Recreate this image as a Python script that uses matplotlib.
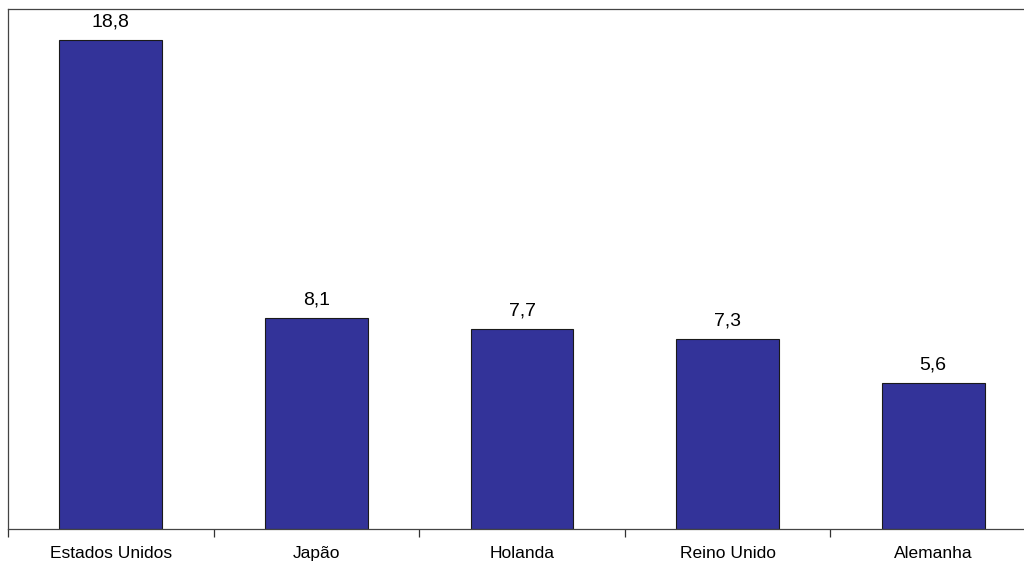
import numpy as np
import matplotlib.pyplot as plt

plt.rcParams['font.family'] = ['Liberation Sans', 'DejaVu Sans']

paises = ['Estados Unidos', 'Japão', 'Holanda', 'Reino Unido', 'Alemanha']
valores = [18.8, 8.1, 7.7, 7.3, 5.6]
rotulos = ['18,8', '8,1', '7,7', '7,3', '5,6']

fig = plt.figure(figsize=(10.24, 5.67), dpi=100)
ax = fig.add_axes([8 / 1024, 38 / 567, 1028 / 1024, 520 / 567])

x = np.arange(len(paises))
ax.bar(x, valores, width=0.5, color='#333399', edgecolor='#1a1a1a', linewidth=0.8)

for xi, v, r in zip(x, valores, rotulos):
    ax.annotate(r, (xi, v), xytext=(0, 9.7), textcoords='offset points',
                ha='center', va='baseline', fontsize=14)

ax.set_xlim(-0.5, len(paises) - 0.5)
ax.set_ylim(0, 20)
ax.set_yticks([])
ax.set_xticks(x)
ax.set_xticklabels(paises, fontsize=12.5)
ax.set_xticks(np.arange(-0.5, len(paises), 1), minor=True)
ax.tick_params(axis='x', which='major', length=0, pad=12)
ax.tick_params(axis='x', which='minor', length=6, width=0.9, color='#333333', direction='out')

for s in ['left', 'top', 'bottom']:
    ax.spines[s].set_color('#444444')
    ax.spines[s].set_linewidth(0.9)
ax.spines['right'].set_visible(False)

fig.savefig('out.png', dpi=100)
